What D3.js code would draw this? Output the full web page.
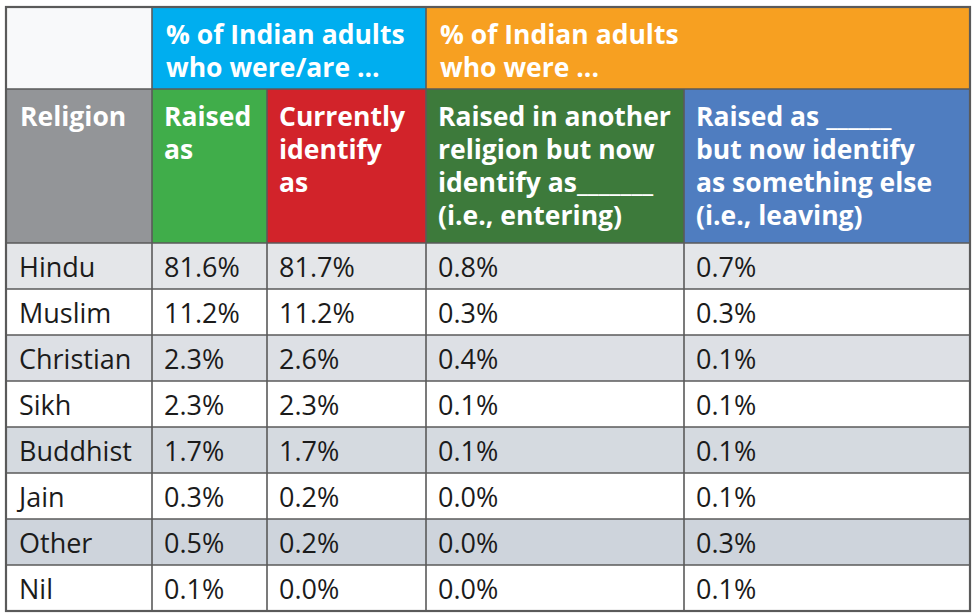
<!DOCTYPE html>
<meta charset="utf-8">
<style>
body { margin: 0; background: #fff; }
svg text { font-family: "Open Sans", sans-serif; }
.cell { font-size: 27px; fill: #1b1b1b; }
.head { font-size: 26.5px; font-weight: 700; fill: #fff; }
</style>
<div id="chart"></div>
<script src="https://d3js.org/d3.v7.min.js"></script>
<script>

// data
var religions = ["Hindu", "Muslim", "Christian", "Sikh", "Buddhist", "Jain", "Other", "Nil"];
var raisedAs = [81.6, 11.2, 2.3, 2.3, 1.7, 0.3, 0.5, 0.1];
var currentlyAs = [81.7, 11.2, 2.6, 2.3, 1.7, 0.2, 0.2, 0.0];
var entering = [0.8, 0.3, 0.4, 0.1, 0.1, 0.0, 0.0, 0.0];
var leaving = [0.7, 0.3, 0.1, 0.1, 0.1, 0.1, 0.3, 0.1];

var groupLabels = [
  ["% of Indian adults", "who were/are ..."],
  ["% of Indian adults", "who were ..."]
];
var columnLabels = [
  ["Religion"],
  ["Raised", "as"],
  ["Currently", "identify", "as"],
  ["Raised in another", "religion but now", "identify as_______", "(i.e., entering)"],
  ["Raised as ______", "but now identify", "as something else", "(i.e., leaving)"]
];

// layout
var width = 973, height = 616;
var colKeys = ["religion", "raised", "current", "entering", "leaving"];
var colEdges = [6, 152, 267, 426, 684, 970];
var topY = 7, splitY = 89, headBottom = 243, bottomY = 611;
var lineStep = 33;

var x = d3.scaleOrdinal().domain(colKeys).range(colEdges.slice(0, 5));
var xEnd = d3.scaleOrdinal().domain(colKeys).range(colEdges.slice(1));
var y = d3.scaleBand().domain(religions).range([headBottom, bottomY]);

var headColors = d3.scaleOrdinal().domain(colKeys)
  .range(["#939598", "#40ad4a", "#d2232a", "#3d7a3b", "#4f7dc0"]);
var groupColors = ["#00aeef", "#f7a021"];
var shade = d3.interpolateRgb("#e4e6e9", "#ced4dc");

var svg = d3.select("#chart").append("svg")
  .attr("width", width)
  .attr("height", height);

var fmt = d3.format(".1f");
var rows = religions.map(function(r, i) {
  return {religion: r, values: [r, fmt(raisedAs[i]) + "%", fmt(currentlyAs[i]) + "%",
    fmt(entering[i]) + "%", fmt(leaving[i]) + "%"], i: i};
});

// body rows
var row = svg.append("g").selectAll("g")
  .data(rows)
  .enter().append("g");

row.append("rect")
  .attr("x", colEdges[0])
  .attr("y", function(d) { return y(d.religion); })
  .attr("width", colEdges[5] - colEdges[0])
  .attr("height", y.bandwidth())
  .attr("fill", function(d) { return d.i % 2 == 0 ? shade(d.i / 6) : "#fff"; });

row.selectAll("text")
  .data(function(d) { return d.values.map(function(v, j) { return {v: v, key: colKeys[j], y: y(d.religion)}; }); })
  .enter().append("text")
    .attr("class", "cell")
    .attr("x", function(d) { return x(d.key) + (d.key == "religion" ? 13 : 12); })
    .attr("y", function(d) { return d.y + 34; })
    .text(function(d) { return d.v; });

// header: top-left blank, group headers
svg.append("rect")
  .attr("x", colEdges[0]).attr("y", topY)
  .attr("width", colEdges[1] - colEdges[0]).attr("height", splitY - topY)
  .attr("fill", "#f8f9fa");

var groups = [
  {x0: x("raised"), x1: xEnd("current"), label: groupLabels[0], color: groupColors[0]},
  {x0: x("entering"), x1: xEnd("leaving"), label: groupLabels[1], color: groupColors[1]}
];
var g = svg.append("g").selectAll("g").data(groups).enter().append("g");
g.append("rect")
  .attr("x", function(d) { return d.x0; })
  .attr("y", topY)
  .attr("width", function(d) { return d.x1 - d.x0; })
  .attr("height", splitY - topY)
  .attr("fill", function(d) { return d.color; });
g.each(function(d) {
  d3.select(this).selectAll("text").data(d.label).enter().append("text")
    .attr("class", "head")
    .attr("x", d.x0 + 14)
    .attr("y", function(t, k) { return 44 + k * lineStep; })
    .text(function(t) { return t; });
});

// column headers
var ch = svg.append("g").selectAll("g")
  .data(colKeys.map(function(k, j) { return {key: k, lines: columnLabels[j]}; }))
  .enter().append("g");
ch.append("rect")
  .attr("x", function(d) { return x(d.key); })
  .attr("y", splitY)
  .attr("width", function(d) { return xEnd(d.key) - x(d.key); })
  .attr("height", headBottom - splitY)
  .attr("fill", function(d) { return headColors(d.key); });
ch.each(function(d) {
  d3.select(this).selectAll("text").data(d.lines).enter().append("text")
    .attr("class", "head")
    .attr("x", x(d.key) + (d.key == "religion" ? 14 : 12))
    .attr("y", function(t, k) { return 126 + k * lineStep; })
    .text(function(t) { return t; });
});

// grid lines
var lines = svg.append("g").attr("stroke", "#5a5a5a").attr("stroke-width", 1.6);
religions.forEach(function(r, i) {
  if (i > 0) lines.append("line")
    .attr("x1", colEdges[0]).attr("x2", colEdges[5])
    .attr("y1", y(r)).attr("y2", y(r));
});
lines.append("line").attr("x1", colEdges[0]).attr("x2", colEdges[5])
  .attr("y1", headBottom).attr("y2", headBottom);
lines.append("line").attr("x1", colEdges[0]).attr("x2", colEdges[5])
  .attr("y1", splitY).attr("y2", splitY);
// inner column lines: those inside a group header start below it
colEdges.slice(1, 5).forEach(function(e, j) {
  lines.append("line")
    .attr("x1", e).attr("x2", e)
    .attr("y1", (j == 1 || j == 3) ? splitY : topY).attr("y2", bottomY);
});
lines.append("rect")
  .attr("x", colEdges[0]).attr("y", topY)
  .attr("width", colEdges[5] - colEdges[0]).attr("height", bottomY - topY)
  .attr("fill", "none").attr("stroke-width", 2.2);

</script>
